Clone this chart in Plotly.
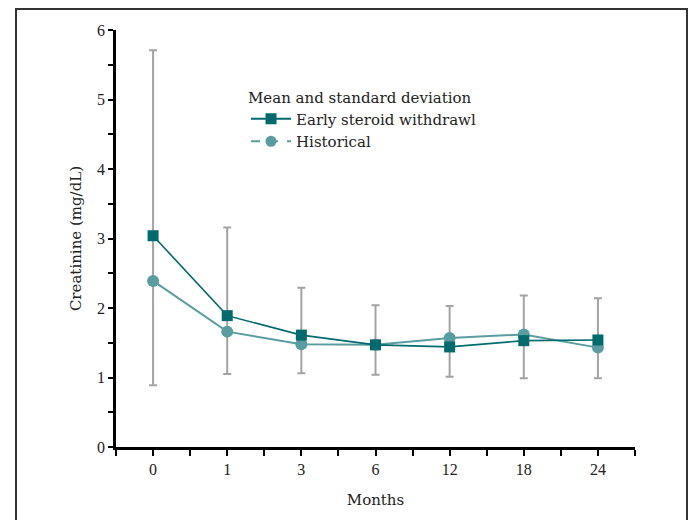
import plotly.graph_objects as go

months = ["0", "1", "3", "6", "12", "18", "24"]
early = [3.04, 1.89, 1.61, 1.47, 1.44, 1.53, 1.54]
historical = [2.39, 1.66, 1.48, 1.47, 1.57, 1.62, 1.43]
sd_upper = [5.71, 3.16, 2.29, 2.04, 2.03, 2.18, 2.14]
sd_lower = [0.89, 1.05, 1.06, 1.04, 1.01, 0.99, 0.99]

idx = list(range(len(months)))
EARLY_C = "#006a6c"
HIST_C = "#5a9da1"
FONT = "Liberation Serif"
FONT2 = "DejaVu Serif"

fig = go.Figure()

# SD error bars (drawn underneath)
fig.add_trace(go.Scatter(
    x=idx, y=early, mode="markers", marker=dict(size=1, opacity=0),
    showlegend=False, hoverinfo="skip",
    error_y=dict(type="data", symmetric=False,
                 array=[u - m for u, m in zip(sd_upper, early)],
                 arrayminus=[m - l for m, l in zip(early, sd_lower)],
                 color="#a3a3a3", thickness=2, width=4),
))

fig.add_trace(go.Scatter(
    x=idx, y=historical, mode="lines+markers", showlegend=False,
    line=dict(color=HIST_C, width=2),
    marker=dict(symbol="circle", size=12, color=HIST_C),
))
fig.add_trace(go.Scatter(
    x=idx, y=early, mode="lines+markers", showlegend=False,
    line=dict(color=EARLY_C, width=1.6),
    marker=dict(symbol="square", size=11, color=EARLY_C),
))

# legend entries
fig.add_trace(go.Scatter(
    x=[None], y=[None], mode="lines+markers", name="Early steroid withdrawl",
    line=dict(color=EARLY_C, width=2),
    marker=dict(symbol="square", size=11, color=EARLY_C),
))
fig.add_trace(go.Scatter(
    x=[None], y=[None], mode="lines+markers", name="Historical",
    line=dict(color=HIST_C, width=2, dash="dash"),
    marker=dict(symbol="circle", size=11, color=HIST_C),
))

L, R, T, B = 116, 55, 30, 73
W, H = 690, 520
pw, ph = W - L - R, H - T - B

def px_x(p):
    return (p - L) / pw

def px_y(p):
    return (H - B - p) / ph

fig.add_shape(type="rect", xref="paper", yref="paper",
              x0=px_x(16), x1=px_x(687), y0=px_y(540), y1=px_y(9),
              line=dict(color="#333333", width=2), fillcolor="rgba(0,0,0,0)",
              layer="above")

fig.update_layout(
    width=W, height=H,
    margin=dict(l=L, r=R, t=T, b=B),
    paper_bgcolor="white", plot_bgcolor="white",
    font=dict(family=FONT, size=16, color="#222222"),
    legend=dict(
        x=px_x(246), y=px_y(83), xanchor="left", yanchor="top",
        title=dict(text="Mean and standard deviation",
                   font=dict(family=FONT2, size=15)),
        font=dict(family=FONT2, size=15), bgcolor="rgba(0,0,0,0)",
        tracegroupgap=0, itemwidth=40,
    ),
    xaxis=dict(
        range=[-0.5, 6.5], tickmode="array", tickvals=idx, ticktext=months,
        showgrid=False, zeroline=False, showline=True, linecolor="black",
        linewidth=2.5, ticks="outside", ticklen=6, tickwidth=2,
        tickcolor="black", tickfont=dict(size=16),
        minor=dict(ticks="outside", tickmode="linear", tick0=-0.5, dtick=1,
                   ticklen=6, tickwidth=2, tickcolor="black"),
        title=dict(text="Months", font=dict(family=FONT2, size=15), standoff=18),
    ),
    yaxis=dict(
        range=[0, 6], tickmode="linear", tick0=0, dtick=1,
        showgrid=False, zeroline=False, showline=True, linecolor="black",
        linewidth=2.5, ticks="outside", ticklen=5, tickwidth=2,
        tickcolor="black", tickfont=dict(size=16),
        minor=dict(ticks="outside", tickmode="linear", tick0=0, dtick=0.5,
                   ticklen=5, tickwidth=2, tickcolor="black"),
        title=dict(text="Creatinine (mg/dL)", font=dict(family=FONT2, size=15),
                   standoff=12),
    ),
)

fig.write_html("out.html")
